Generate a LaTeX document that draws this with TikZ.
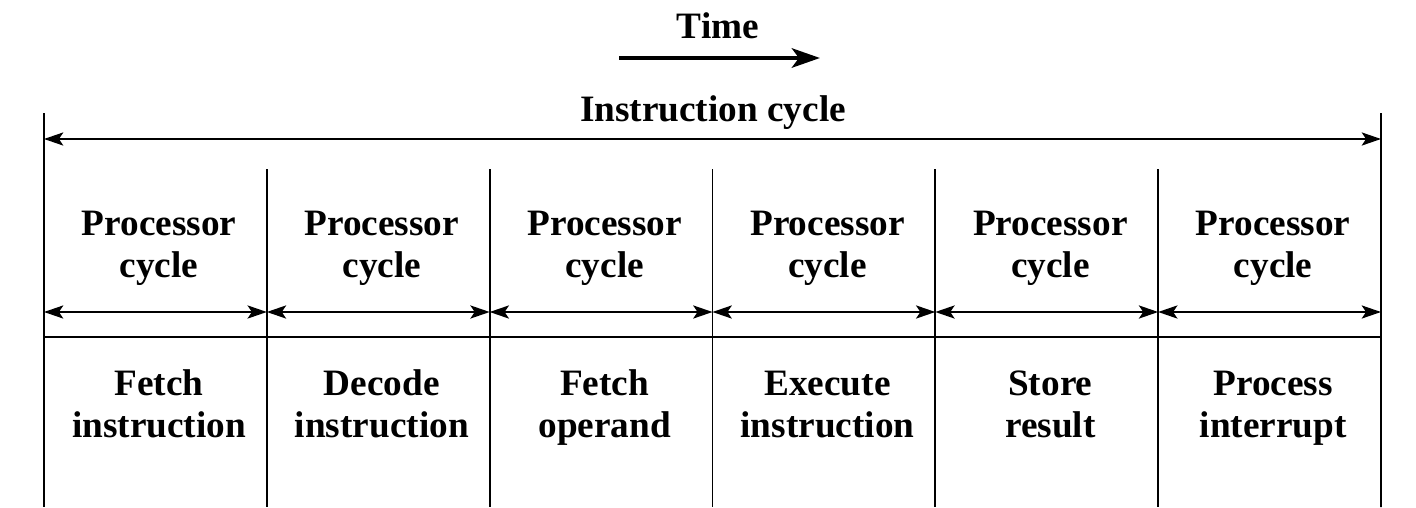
\documentclass[tikz,border=0pt]{standalone}
\usepackage{fontspec}
\setmainfont{Liberation Serif}
\usetikzlibrary{arrows.meta}
\begin{document}
\begin{tikzpicture}[x=0.02cm,y=-0.02cm,
        every node/.style={font=\bfseries\fontsize{21.2}{23.9}\selectfont,align=center,inner sep=0pt},
        rule/.style={line width=1pt},
        span/.style={rule,{Stealth[length=11pt,width=7.5pt,inset=2.5pt]}-{Stealth[length=11pt,width=7.5pt,inset=2.5pt]}}]
        \useasboundingbox (0,0) rectangle (1416,507);
        %% Time
        \node[anchor=base] (time) at (718,38) {Time};
        \coordinate (t0) at (619,58);
        \coordinate (t1) at (820,58);
        \draw[line width=2.6pt,-{Stealth[length=16pt,width=11pt,inset=4pt]}] (t0) -- (t1);
        %% Instruction cycle
        \node[anchor=base] (ic) at (713,121) {Instruction cycle};
        \coordinate (top0) at (44,113);
        \coordinate (top6) at (1381,113);
        \coordinate (ia0) at (44,139);
        \coordinate (ia6) at (1381,139);
        \draw[span] (ia0) -- (ia6);
        %% Columns
        \foreach \i in {0,...,6} {
            \coordinate (d\i) at ({44+222.83*\i},169);
            \coordinate (a\i) at ({44+222.83*\i},312);
            \coordinate (h\i) at ({44+222.83*\i},337);
            \coordinate (b\i) at ({44+222.83*\i},507);
        }
        \draw[rule] (top0) -- (b0);
        \draw[rule] (top6) -- (b6);
        \foreach \i in {1,...,5} \draw[rule] (d\i) -- (b\i);
        \draw[rule] (h0) -- (h6);
        \foreach \i [evaluate=\i as \j using int(\i+1)] in {0,...,5} \draw[span] (a\i) -- (a\j);
        %% Labels
        \foreach \i/\txt in {0/{Fetch\\instruction},1/{Decode\\instruction},2/{Fetch\\operand},
                3/{Execute\\instruction},4/{Store\\result},5/{Process\\interrupt}} {
            \node[anchor=base] (pc\i) at ({159+222.83*\i},277) {Processor\\cycle};
            \node[anchor=base] (st\i) at ({159+222.83*\i},437) {\txt};
        }
    \end{tikzpicture}
\end{document}
